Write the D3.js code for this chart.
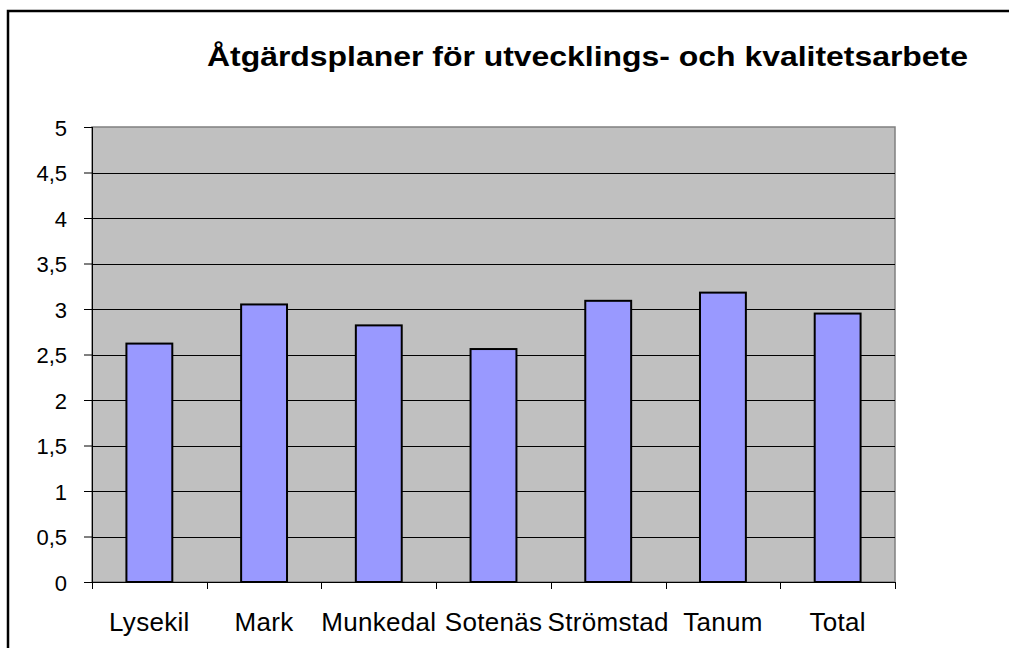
<!DOCTYPE html>
<html>
<head>
<meta charset="utf-8">
<script src="https://d3js.org/d3.v7.min.js"></script>
<style>
  body { margin: 0; background: #fff; }
  text { font-family: "Liberation Sans", Arial, sans-serif; fill: #000; }
</style>
</head>
<body>
<svg width="1009" height="648"></svg>
<script>
// data
var categories = ["Lysekil", "Mark", "Munkedal", "Sotenäs", "Strömstad", "Tanum", "Total"];
var values = [2.62, 3.05, 2.82, 2.56, 3.09, 3.18, 2.95];
var yTicks = [0, 0.5, 1, 1.5, 2, 2.5, 3, 3.5, 4, 4.5, 5];
var title = "Åtgärdsplaner för utvecklings- och kvalitetsarbete";

function draw() {
  var svg = d3.select("svg");
  var pLeft = 92, pRight = 895, pTop = 127, pBottom = 582;

  // outer frame
  svg.append("rect")
    .attr("x", 8).attr("y", 11)
    .attr("width", 1100).attr("height", 700)
    .attr("fill", "none").attr("stroke", "#000").attr("stroke-width", 2.5);

  var x = d3.scaleBand().domain(categories).range([pLeft, pRight])
    .paddingInner(0.6).paddingOuter(0.3);
  var y = d3.scaleLinear().domain([0, 5]).range([pBottom, pTop]);

  // plot area
  svg.append("rect")
    .attr("x", pLeft).attr("y", pTop)
    .attr("width", pRight - pLeft).attr("height", pBottom - pTop)
    .attr("fill", "#c0c0c0").attr("stroke", "#808080").attr("stroke-width", 1.5);

  // gridlines
  svg.append("g").selectAll("line")
    .data(yTicks.filter(function(d){ return d > 0 && d < 5; }))
    .enter().append("line")
    .attr("x1", pLeft).attr("x2", pRight)
    .attr("y1", function(d){ return Math.round(y(d)) + 0.5; })
    .attr("y2", function(d){ return Math.round(y(d)) + 0.5; })
    .attr("stroke", "#000").attr("stroke-width", 1);

  // bars
  svg.append("g").selectAll("rect")
    .data(values).enter().append("rect")
    .attr("x", function(d, i){ return x(categories[i]); })
    .attr("y", function(d){ return y(d); })
    .attr("width", x.bandwidth())
    .attr("height", function(d){ return pBottom - y(d); })
    .attr("fill", "#9999ff").attr("stroke", "#000").attr("stroke-width", 2);

  // y axis
  var yAxis = svg.append("g")
    .attr("transform", "translate(" + pLeft + ",0)")
    .call(d3.axisLeft(y).tickValues(yTicks).tickSize(8).tickPadding(17)
      .tickFormat(function(d){ return String(d).replace(".", ","); }));
  yAxis.selectAll("text").style("font-size", "22px").attr("dy", "0.38em");
  yAxis.selectAll("line, path").attr("stroke", "#000");
  yAxis.select(".domain").attr("d", "M0.5," + pTop + "V" + pBottom);

  // x axis: ticks at category boundaries
  var boundaries = categories.map(function(c){ return x(c) - x.step() * 0.3; }).concat([pRight]);
  var xg = svg.append("g");
  xg.append("line")
    .attr("x1", pLeft).attr("x2", pRight)
    .attr("y1", pBottom + 0.5).attr("y2", pBottom + 0.5)
    .attr("stroke", "#000");
  xg.selectAll("line.tick").data(boundaries).enter().append("line")
    .attr("class", "tick")
    .attr("x1", function(d){ return Math.round(d) + 0.5; })
    .attr("x2", function(d){ return Math.round(d) + 0.5; })
    .attr("y1", pBottom).attr("y2", pBottom + 7)
    .attr("stroke", "#000");
  xg.selectAll("text").data(categories).enter().append("text")
    .attr("x", function(d){ return x(d) + x.bandwidth() / 2; })
    .attr("y", 631)
    .attr("text-anchor", "middle")
    .style("font-size", "26px")
    .style("letter-spacing", "0.3px")
    .text(function(d){ return d; });

  // title
  svg.append("text")
    .attr("x", 207).attr("y", 66)
    .attr("textLength", 761).attr("lengthAdjust", "spacingAndGlyphs")
    .style("font-size", "27px").style("font-weight", "bold")
    .text(title);
}
draw();
</script>
</body>
</html>
